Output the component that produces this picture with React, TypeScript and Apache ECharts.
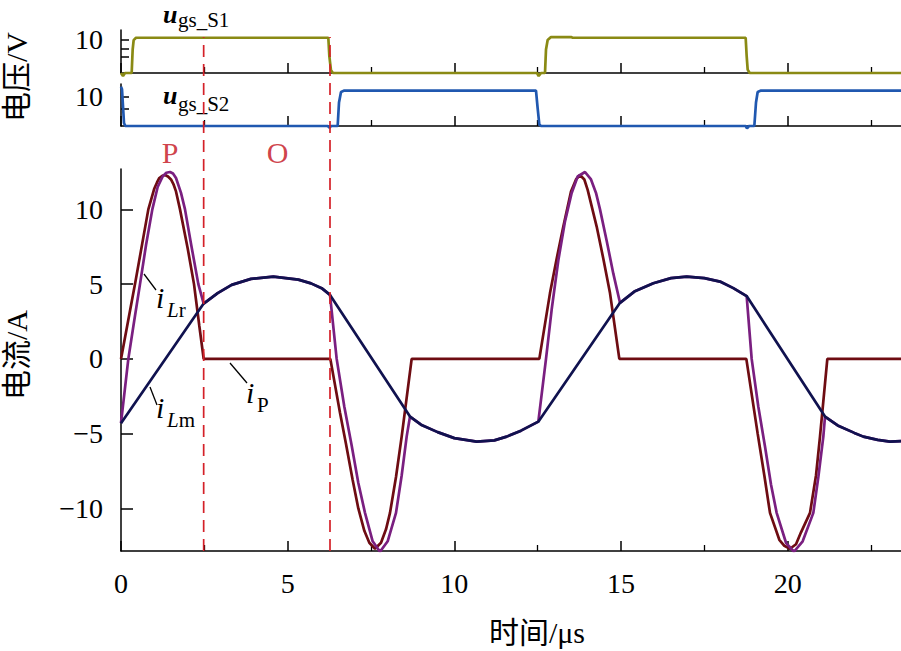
import { useEffect, useRef } from 'react';
import * as echarts from 'echarts';

// ---------- data ----------
// gate-source voltage of S1 (V) vs time (μs)
const ugsS1Time = [0, 0.06, 0.12, 0.32, 0.35, 0.38, 0.45, 1.2, 6.22, 6.25, 6.3, 6.36, 12.48, 12.53, 12.6, 12.72, 12.75, 12.8, 12.9, 13.5, 13.55, 18.74, 18.77, 18.8, 18.86, 23.4];
const ugsS1Volt = [0, -0.9, 0, 0, 7, 9.8, 10.5, 10.5, 10.5, 5, 0.8, 0, 0, -0.9, 0, 0, 7, 9.8, 10.7, 10.7, 10.5, 10.5, 5, 1, 0, 0];

// gate-source voltage of S2 (V)
const ugsS2Time = [0, 0.03, 0.09, 0.13, 6.2, 6.26, 6.3, 6.5, 6.54, 6.6, 6.7, 12.45, 12.5, 12.55, 12.6, 18.74, 18.78, 18.84, 19.0, 19.05, 19.1, 19.2, 23.4];
const ugsS2Volt = [13.4, 12.5, 1, 0, 0, -0.6, 0, 0, 8, 11.6, 12.05, 12.05, 6, 0.5, 0, 0, -0.8, 0, 0, 8, 11.6, 12.05, 12.05];

// primary current iP (A)
const iPTime = [0, 0.42, 0.82, 1.0, 1.08, 1.15, 1.24, 1.32, 1.41, 1.5, 1.58, 1.65, 1.77, 2.0, 2.19, 2.35, 2.48, 6.28, 6.57, 6.75, 6.95, 7.12, 7.3, 7.45, 7.62, 7.8, 7.95, 8.07, 8.25, 8.42, 8.72, 12.55, 12.87, 13.07, 13.27, 13.5, 13.65, 13.77, 13.9, 14.0, 14.27, 14.47, 14.67, 14.95, 18.76, 19.1, 19.3, 19.47, 19.75, 19.9, 20.07, 20.25, 20.4, 20.67, 20.85, 20.97, 21.19, 23.4];
const iPCurrent = [0, 5, 10, 11.4, 11.8, 12.1, 12.25, 12.3, 12.2, 12.0, 11.65, 11.2, 10, 7.4, 5, 2.2, 0, 0, -3.6, -5.7, -8.1, -10.0, -11.5, -12.3, -12.7, -12.3, -11.4, -10.3, -7.9, -5.2, 0, 0, 4.4, 6.7, 8.85, 11.2, 12.0, 12.3, 12.0, 11.3, 8.85, 6.7, 4.4, 0, 0, -5, -7.8, -10.3, -12.1, -12.5, -12.7, -12.4, -11.6, -10.3, -7.8, -5.2, 0, 0];

// resonant inductor current iLr (A)
const iLrTime = [0, 0.22, 0.4, 0.57, 0.75, 0.94, 1.1, 1.25, 1.36, 1.47, 1.56, 1.65, 1.8, 1.92, 2.1, 2.32, 2.48, 2.9, 3.32, 3.9, 4.57, 5.32, 5.7, 6.02, 6.27, 6.47, 6.7, 6.92, 7.12, 7.32, 7.55, 7.77, 8.0, 8.25, 8.42, 8.57, 8.67, 9.0, 9.5, 10.0, 10.67, 11.2, 11.57, 12.0, 12.52, 12.75, 12.92, 13.12, 13.32, 13.52, 13.7, 13.92, 14.1, 14.25, 14.37, 14.57, 14.77, 14.97, 15.4, 15.97, 16.5, 16.97, 17.5, 17.97, 18.37, 18.77, 18.92, 19.12, 19.32, 19.5, 19.67, 19.95, 20.19, 20.45, 20.77, 20.92, 21.07, 21.12, 21.5, 22.0, 22.27, 22.7, 23.07, 23.4];
const iLrCurrent = [-4.3, 0, 2.6, 5, 7.6, 10, 11.5, 12.2, 12.45, 12.5, 12.4, 12.1, 11.1, 10, 7.7, 5, 3.7, 4.4, 4.95, 5.35, 5.5, 5.3, 5.05, 4.73, 4.28, 0, -3.2, -5.8, -8.3, -10.3, -12.2, -12.9, -12.2, -10.3, -7.8, -5.2, -3.86, -4.4, -4.9, -5.3, -5.53, -5.45, -5.2, -4.8, -4.2, 0, 3.3, 6.6, 9.2, 11.1, 12.2, 12.5, 12.0, 11.1, 10.0, 7.9, 5.7, 3.75, 4.5, 5.06, 5.4, 5.5, 5.4, 5.17, 4.73, 4.2, 0, -3.2, -5.86, -8.4, -10.3, -12.3, -12.9, -12.2, -10.3, -7.9, -5.2, -3.86, -4.45, -4.95, -5.2, -5.42, -5.53, -5.5];

// magnetizing inductor current iLm (A)
const iLmTime = [0, 2.48, 2.9, 3.32, 3.9, 4.57, 5.32, 5.7, 6.02, 6.27, 8.67, 9.0, 9.5, 10.0, 10.67, 11.2, 11.57, 12.0, 12.52, 14.97, 15.4, 15.97, 16.5, 16.97, 17.5, 17.97, 18.37, 18.77, 21.12, 21.5, 22.0, 22.27, 22.7, 23.07, 23.4];
const iLmCurrent = [-4.3, 3.7, 4.4, 4.95, 5.35, 5.5, 5.3, 5.05, 4.73, 4.28, -3.86, -4.4, -4.9, -5.3, -5.53, -5.45, -5.2, -4.8, -4.2, 3.75, 4.5, 5.06, 5.4, 5.5, 5.4, 5.17, 4.73, 4.2, -3.86, -4.45, -4.95, -5.2, -5.42, -5.53, -5.5];

// operating-phase boundaries and names
const phaseBoundaryTimes = [2.48, 6.27];
const phaseLabels = ['P', 'O'];
const phaseLabelTimes = [1.47, 4.7];

// axis ticks / labels
const timeMajorTicks = [0, 5, 10, 15, 20];
const timeMinorTicks = [2.5, 7.5, 12.5, 17.5, 22.5];
const currentTicks = [-10, -5, 0, 5, 10];
const s1Ticks = [4.7, 7.35, 10];
const s1Labels = [10];
const s2Ticks = [6, 10];
const s2Labels = [10];

// ---------- layout ----------
const X_MAX = 23.4;
const LEFT = 121;

const SERIF = '"Liberation Serif", "Times New Roman", serif';
const CJK = '"Liberation Serif", "Noto Sans CJK SC", serif';

const zip = (t: number[], v: number[]) => t.map((x, i) => [x, v[i]]);
const fmt = (v: number) => (v < 0 ? '\u2212' + Math.abs(v) : String(v));

function xMajor(gridIndex: number, showLabels: boolean) {
  return {
    type: 'value',
    gridIndex,
    position: 'bottom',
    min: 0,
    max: X_MAX,
    axisLine: { show: true, onZero: false, lineStyle: { color: '#000', width: 1.5 } },
    axisTick: {
      show: true,
      inside: true,
      length: 10,
      customValues: timeMajorTicks,
      lineStyle: { color: '#000', width: 1.5 },
    },
    splitLine: { show: false },
    axisLabel: {
      show: showLabels,
      customValues: timeMajorTicks,
      color: '#000',
      fontSize: 28,
      fontFamily: SERIF,
      margin: 18,
    },
  };
}

function xMinor(gridIndex: number) {
  return {
    type: 'value',
    gridIndex,
    position: 'bottom',
    offset: 0,
    min: 0,
    max: X_MAX,
    axisLine: { show: false, onZero: false },
    axisTick: {
      show: true,
      inside: true,
      length: 6,
      customValues: timeMinorTicks,
      lineStyle: { color: '#000', width: 1.3 },
    },
    splitLine: { show: false },
    axisLabel: { show: false },
  };
}

function yAxis(gridIndex: number, min: number, max: number, ticks: number[], labels: number[], tickLen: number, pad: number) {
  return {
    type: 'value',
    gridIndex,
    min,
    max,
    axisLine: { show: true, onZero: false, lineStyle: { color: '#000', width: 1.5 } },
    axisTick: { show: true, inside: true, length: tickLen, customValues: ticks, lineStyle: { color: '#000', width: 1.5 } },
    splitLine: { show: false },
    axisLabel: {
      show: true,
      customValues: labels,
      formatter: fmt,
      color: '#000',
      fontSize: 28,
      fontFamily: SERIF,
      margin: 18,
      padding: [pad, 0, 0, 0],
    },
  };
}

function curve(data: number[][], color: string, xi: number, yi: number, clip: boolean) {
  return {
    type: 'line',
    xAxisIndex: xi,
    yAxisIndex: yi,
    data,
    showSymbol: false,
    symbol: 'none',
    clip,
    lineStyle: { color, width: 2.7 },
    emphasis: { disabled: true },
  };
}

function subLabel(x: number, y: number, main: string, subRich: string) {
  return [
    {
      type: 'text',
      x,
      y,
      style: {
        text: main,
        fontSize: 30,
        fontStyle: 'italic',
        fontFamily: SERIF,
        fill: '#000',
        align: 'left',
        verticalAlign: 'middle',
      },
    },
    {
      type: 'text',
      x: x + 11,
      y: y + 13,
      style: {
        text: subRich,
        rich: {
          it: { fontSize: 21, fontStyle: 'italic', fontFamily: SERIF, fill: '#000' },
          up: { fontSize: 21, fontFamily: SERIF, fill: '#000' },
        },
        fontSize: 21,
        fontFamily: SERIF,
        fill: '#000',
        align: 'left',
        verticalAlign: 'middle',
      },
    },
  ];
}

function ugsLabel(x: number, y: number, subDy: number, sub: string) {
  return [
    {
      type: 'text',
      x,
      y,
      style: {
        text: 'u',
        fontSize: 26,
        lineHeight: 20,
        fontStyle: 'italic',
        fontWeight: 'bold',
        fontFamily: SERIF,
        fill: '#000',
        align: 'left',
        verticalAlign: 'middle',
      },
    },
    {
      type: 'text',
      x: x + 15,
      y: y + subDy,
      style: {
        text: sub,
        fontSize: 21,
        fontFamily: SERIF,
        fill: '#000',
        align: 'left',
        verticalAlign: 'middle',
      },
    },
  ];
}

function pointer(x1: number, y1: number, x2: number, y2: number) {
  return {
    type: 'line',
    shape: { x1, y1, x2, y2 },
    style: { stroke: '#000', lineWidth: 1.3 },
  };
}

const option: any = {
  animation: false,
  backgroundColor: '#fff',
  grid: [
    { left: LEFT, right: 0, top: 30, height: 43 },
    { left: LEFT, right: 0, top: 84, height: 42 },
    { left: LEFT, right: 0, top: 169, height: 382 },
    { left: LEFT, right: 0, top: 37, height: 514 },
  ],
  xAxis: [
    xMajor(0, false),
    xMajor(1, false),
    xMajor(2, true),
    { type: 'value', gridIndex: 3, min: 0, max: X_MAX, show: false },
    xMinor(0),
    xMinor(1),
    xMinor(2),
  ],
  yAxis: [
    yAxis(0, 0, 12.8, s1Ticks, s1Labels, 8, 8),
    yAxis(1, 0, 14.3, s2Ticks, s2Labels, 8, 0),
    yAxis(2, -12.85, 12.7, currentTicks, currentTicks, 12, 0),
    { type: 'value', gridIndex: 3, min: 0, max: 1, show: false },
  ],
  series: [
    curve(zip(ugsS1Time, ugsS1Volt), '#8a8a14', 0, 0, false),
    curve(zip(ugsS2Time, ugsS2Volt), '#2058b0', 1, 1, false),
    curve(zip(iPTime, iPCurrent), '#6e0c12', 2, 2, true),
    curve(zip(iLrTime, iLrCurrent), '#7a1f80', 2, 2, true),
    curve(zip(iLmTime, iLmCurrent), '#10124f', 2, 2, true),
    ...phaseBoundaryTimes.map((t) => ({
      type: 'line',
      xAxisIndex: 3,
      yAxisIndex: 3,
      data: [
        [t, 0],
        [t, 1],
      ],
      showSymbol: false,
      symbol: 'none',
      silent: true,
      lineStyle: { color: '#d42028', width: 1.7, type: [12, 7] },
      z: 5,
    })),
    {
      type: 'scatter',
      xAxisIndex: 3,
      yAxisIndex: 3,
      symbolSize: 0,
      silent: true,
      data: phaseLabels.map((name, i) => ({ value: [phaseLabelTimes[i], 0.775], name })),
      label: {
        show: true,
        position: 'inside',
        formatter: (p: any) => p.name,
        color: '#c4101a',
        fontSize: 30,
        fontFamily: SERIF,
      },
    },
  ],
  graphic: [
    {
      type: 'text',
      x: 16,
      y: 77,
      rotation: Math.PI / 2,
      style: { text: '电压/V', fontSize: 30, fontFamily: CJK, fill: '#000', align: 'center', verticalAlign: 'middle' },
    },
    {
      type: 'text',
      x: 16,
      y: 355,
      rotation: Math.PI / 2,
      style: { text: '电流/A', fontSize: 30, fontFamily: CJK, fill: '#000', align: 'center', verticalAlign: 'middle' },
    },
    {
      type: 'text',
      x: 537,
      y: 632,
      style: { text: '时间/μs', fontSize: 30, fontFamily: CJK, fill: '#000', align: 'center', verticalAlign: 'middle' },
    },
    ...ugsLabel(163, 14, 6, 'gs_S1'),
    ...ugsLabel(163, 95, 9, 'gs_S2'),
    ...subLabel(156, 297, 'i', '{it|L}{up|r}'),
    ...subLabel(156, 407, 'i', '{it|L}{up|m}'),
    ...subLabel(246, 392, 'i', '{up|P}'),
    pointer(144, 274, 156, 290),
    pointer(150, 387, 157, 405),
    pointer(230, 363, 247, 383),
  ],
};

export default function App() {
  const ref = useRef<HTMLDivElement>(null);
  useEffect(() => {
    const chart = echarts.init(ref.current as HTMLDivElement, null, { renderer: 'svg' });
    chart.setOption(option);
    return () => chart.dispose();
  }, []);
  return (
    <div
      ref={ref}
      style={{ position: 'fixed', left: 0, top: 0, width: 901, height: 651, background: '#fff' }}
    />
  );
}
